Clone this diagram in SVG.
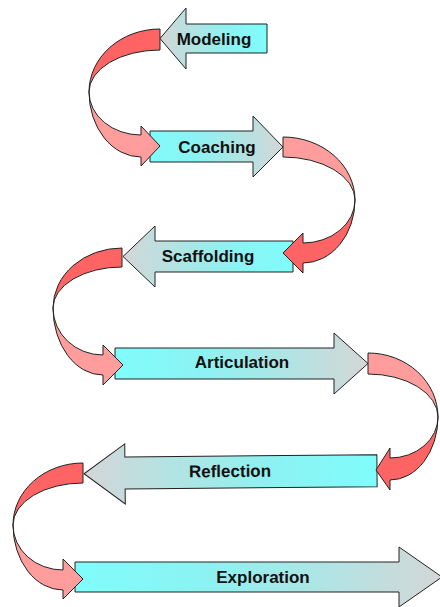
<svg xmlns="http://www.w3.org/2000/svg" width="440" height="607" viewBox="0 0 440 607">
<defs>
<linearGradient id="gR" x1="0" y1="0" x2="1" y2="0"><stop offset="0" stop-color="#80fcfc"/><stop offset="0.35" stop-color="#8cf2f2"/><stop offset="1" stop-color="#d4d6d6"/></linearGradient>
<linearGradient id="gL" x1="0" y1="0" x2="1" y2="0"><stop offset="0" stop-color="#d4d6d6"/><stop offset="0.65" stop-color="#8cf2f2"/><stop offset="1" stop-color="#80fcfc"/></linearGradient>
</defs>
<style>
.r{fill:url(#gR);stroke:#222;stroke-width:1}
.l{fill:url(#gL);stroke:#222;stroke-width:1}
.dk{fill:#fe6464;stroke:#222;stroke-width:1;stroke-linejoin:round}
.lt{fill:#ff9c9c;stroke:#222;stroke-width:1;stroke-linejoin:round}
text{font-family:"Liberation Sans",Arial,sans-serif;font-weight:bold;font-size:17px;fill:#111;text-anchor:middle}
</style>
<g id="modeling">
<path class="l" d="M267,24 L186,24 L186,8 L160,38.5 L186,69 L186,53 L267,53 Z"/>
<text x="214" y="45">Modeling</text>
</g>
<g id="coaching">
<path class="r" d="M150,131 L253,131 L253,116 L283,147 L253,177 L253,162 L150,162 Z"/>
<text x="217" y="153">Coaching</text>
</g>
<g id="scaffolding">
<path class="l" d="M293,241 L155,241 L155,226 L123,256.5 L155,287 L155,272 L293,272 Z"/>
<text x="208" y="262">Scaffolding</text>
</g>
<g id="articulation">
<path class="r" d="M115,348 L334,348 L334,333 L368,363.5 L334,394 L334,379 L115,379 Z"/>
<text x="242" y="368">Articulation</text>
</g>
<g id="reflection" transform="rotate(-0.5 230 472)">
<path class="l" d="M377,456 L125,456 L125,443 L84,472.5 L125,503 L125,488 L377,488 Z"/>
<text x="230" y="477">Reflection</text>
</g>
<g id="exploration">
<path class="r" d="M75,562 L399,562 L399,547 L442,577 L399,607 L399,592 L75,592 Z"/>
<text x="263" y="583">Exploration</text>
</g>
<g id="connectors">
<g id="c1">
<path class="dk" d="M160,29 A71,63 0 0 0 89,92 A71,42 0 0 1 160,50 Z"/>
<path class="lt" d="M89,92 A52,65 0 0 0 141,157 L141,166 L160,146 L141,126 L141,135 A52,43 0 0 1 89,92 Z"/>
</g>
<g id="c2">
<path class="lt" d="M283,137 A72,63 0 0 1 355,200 A72,43 0 0 0 283,157 Z"/>
<path class="dk" d="M355,200 A52,63 0 0 1 303,263 L303,273 L283,253 L303,233 L303,243 A52,43 0 0 0 355,200 Z"/>
</g>
<g id="c3">
<path class="dk" d="M122,248 A69,60 0 0 0 53,308 A69,41 0 0 1 122,267 Z"/>
<path class="lt" d="M53,308 A50,67 0 0 0 103,375 L103,385 L123,365 L103,345 L103,355 A50,47 0 0 1 53,308 Z"/>
</g>
<g id="c4">
<path class="lt" d="M368,353 A70,64 0 0 1 438,417 A70,43 0 0 0 368,374 Z"/>
<path class="dk" d="M438,417 A48,63 0 0 1 390,480 L390,490 L376,470 L390,448 L390,458 A48,41 0 0 0 438,417 Z"/>
</g>
<g id="c5">
<path class="dk" d="M83,463 A70,62 0 0 0 13,525 A70,42 0 0 1 83,483 Z"/>
<path class="lt" d="M13,525 A50,65 0 0 0 63,590 L63,599 L83,579 L63,559 L63,570 A50,45 0 0 1 13,525 Z"/>
</g>
</g>
</svg>
